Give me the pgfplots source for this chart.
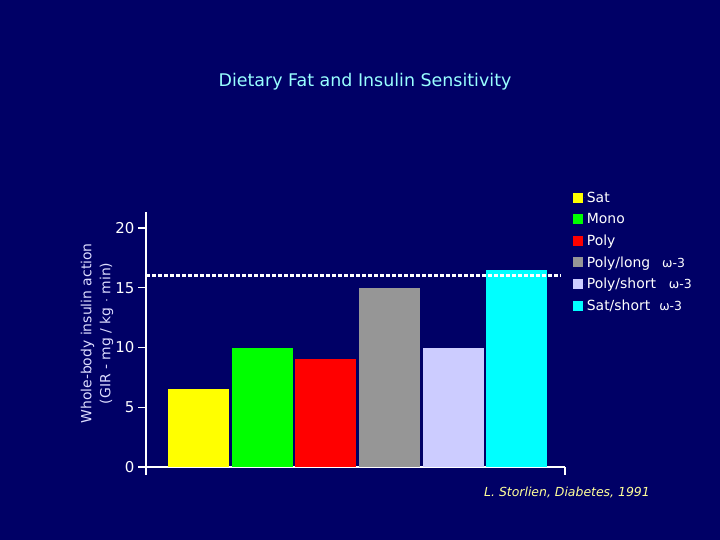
\documentclass[border=0pt]{standalone}
\usepackage{pgfplots}
\pgfplotsset{compat=1.18}
\usepackage{fontspec}
\setmainfont{DejaVu Sans}
\definecolor{bg}{HTML}{000066}
\definecolor{titlec}{HTML}{99FFFF}
\definecolor{labc}{HTML}{DDDDFF}
\definecolor{citec}{HTML}{FFFF99}
\definecolor{cSat}{HTML}{FFFF00}
\definecolor{cMono}{HTML}{00FF00}
\definecolor{cPoly}{HTML}{FF0000}
\definecolor{cLong}{HTML}{969696}
\definecolor{cShort}{HTML}{CCCCFF}
\definecolor{cSatS}{HTML}{00FFFF}
\begin{document}
\begin{tikzpicture}[x=1bp,y=1bp]
\fill[bg] (0,0) rectangle (720,540);
\node[text=titlec, font=\fontsize{17.5}{20}\selectfont] at (365,458) {Dietary Fat and Insulin Sensitivity};
\node[text=citec, font=\fontsize{12.5}{15}\selectfont\itshape] at (567,48) {L. Storlien, Diabetes, 1991};
\begin{axis}[
  at={(146bp,73bp)}, anchor=south west,
  scale only axis, width=419bp, height=254.5bp,
  xmin=-0.825, xmax=5.76, ymin=0, ymax=21.3,
  axis x line=bottom, axis y line=left,
  axis line style={white, line width=1.5pt, -},
  ytick={0,5,10,15,20},
  xtick={-0.825,5.76}, xticklabels={},
  tick style={white, line width=1.2pt},
  major tick length=8bp,
  tick align=outside,
  yticklabel style={text=white, font=\fontsize{15}{17}\selectfont},
  /pgf/number format/assume math mode=true,
  ybar, bar width=61bp, bar shift=0pt,
  ylabel={Whole-body insulin action\\(GIR - mg / kg $\cdot$ min)},
  ylabel style={align=center, text=labc, font=\fontsize{14}{19}\selectfont, at={(axis description cs:-0.117,0.525)}, anchor=center},
  legend style={at={(axis description cs:1.018,1.09)}, anchor=north west, draw=none, fill=none, text=white, font=\fontsize{14}{16}\selectfont, row sep=5.7bp, inner sep=0pt},
  legend cell align=left,
  legend image code/.code={\fill[#1] (0bp,-5bp) rectangle (10bp,5bp); \path (12bp,0) circle (0.1bp);},
  clip=false,
]
\addplot[fill=cSat, draw=none] coordinates {(0,6.5)};
\addplot[fill=cMono, draw=none] coordinates {(1,10)};
\addplot[fill=cPoly, draw=none] coordinates {(2,9)};
\addplot[fill=cLong, draw=none] coordinates {(3,15)};
\addplot[fill=cShort, draw=none] coordinates {(4,10)};
\addplot[fill=cSatS, draw=none] coordinates {(5,16.5)};
\legend{Sat, Mono, Poly, {Poly/long\hspace{12bp}{\fontsize{12.5}{14}\selectfont ω-3}}, {Poly/short\hspace{13bp}{\fontsize{12.5}{14}\selectfont ω-3}}, {Sat/short\hspace{9bp}{\fontsize{12.5}{14}\selectfont ω-3}}}
\addplot[sharp plot, no marks, white, line width=3bp, dash pattern=on 4bp off 2bp, forget plot] coordinates {(-0.825,16) (5.7,16)};
\end{axis}
\pgfresetboundingbox
\useasboundingbox (0,0) rectangle (720,540);
\end{tikzpicture}
\end{document}
